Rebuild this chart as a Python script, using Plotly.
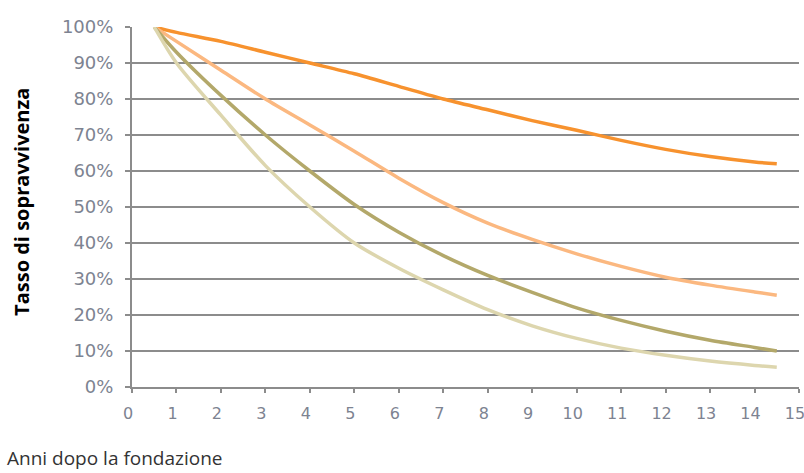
import plotly.graph_objects as go

years = [0.5, 1, 2, 3, 4, 5, 6, 7, 8, 9, 10, 11, 12, 13, 14, 14.5]
serie_a = [1.00, 0.985, 0.96, 0.93, 0.90, 0.87, 0.835, 0.80, 0.77, 0.74, 0.713, 0.685, 0.66, 0.64, 0.625, 0.62]
serie_b = [1.00, 0.96, 0.88, 0.80, 0.728, 0.655, 0.58, 0.512, 0.455, 0.41, 0.37, 0.335, 0.305, 0.283, 0.264, 0.255]
serie_c = [1.00, 0.93, 0.81, 0.70, 0.60, 0.507, 0.43, 0.365, 0.31, 0.263, 0.22, 0.185, 0.155, 0.13, 0.11, 0.10]
serie_d = [1.00, 0.90, 0.755, 0.615, 0.50, 0.40, 0.33, 0.27, 0.215, 0.17, 0.135, 0.108, 0.088, 0.072, 0.06, 0.055]

series = [serie_a, serie_b, serie_c, serie_d]
colors = ["#F7922E", "#FBB880", "#B3A86A", "#DDD6AE"]

x_ticks = list(range(0, 16))
y_ticks = [i / 10 for i in range(0, 11)]
y_tick_labels = [f"{i*10}%" for i in range(0, 11)]

fig = go.Figure()
for s, c in zip(series, colors):
    fig.add_trace(go.Scatter(x=years, y=s, mode="lines",
                             line=dict(color=c, width=3.5, shape="spline", smoothing=0.8),
                             showlegend=False, hoverinfo="skip"))

x_font = dict(family="DejaVu Sans, sans-serif", size=16, color="#7d8391")
y_font = dict(family="DejaVu Sans, sans-serif", size=18, color="#7d8391")

fig.update_layout(
    width=804, height=473,
    margin=dict(l=132, r=5, t=27, b=86),
    paper_bgcolor="white", plot_bgcolor="white",
    xaxis=dict(range=[0, 15], tickvals=x_ticks, ticks="outside", ticklen=4,
               tickcolor="#8c8c8c", tickwidth=2, showgrid=False,
               showline=True, linecolor="#8c8c8c", linewidth=2,
               tickfont=x_font, zeroline=False, ticklabelstandoff=7,
               ticklabeloverflow="allow", ticklabelshift=-4, automargin=False),
    yaxis=dict(range=[0, 1], tickvals=y_ticks, ticktext=y_tick_labels,
               ticks="outside", ticklen=5, tickcolor="#8c8c8c", tickwidth=2,
               showgrid=True, gridcolor="#8c8c8c", gridwidth=2,
               showline=True, linecolor="#8c8c8c", linewidth=2,
               tickfont=y_font, zeroline=False, ticklabelstandoff=8,
               automargin=False),
    annotations=[
        dict(text="<b>Tasso di sopravvivenza</b>", textangle=-90,
             xref="paper", yref="paper", x=-0.165, y=0.514, showarrow=False,
             font=dict(family="Open Sans, sans-serif", size=20, color="#000000"),
             xanchor="center", yanchor="middle"),
        dict(text="Anni dopo la fondazione", xref="paper", yref="paper",
             x=-0.190, y=-0.197, showarrow=False, xanchor="left", yanchor="middle",
             font=dict(family="Open Sans, sans-serif", size=19, color="#333333")),
    ],
)

fig.write_html("out.html", post_script="document.body.style.margin='0';",
               config={"displayModeBar": False})
